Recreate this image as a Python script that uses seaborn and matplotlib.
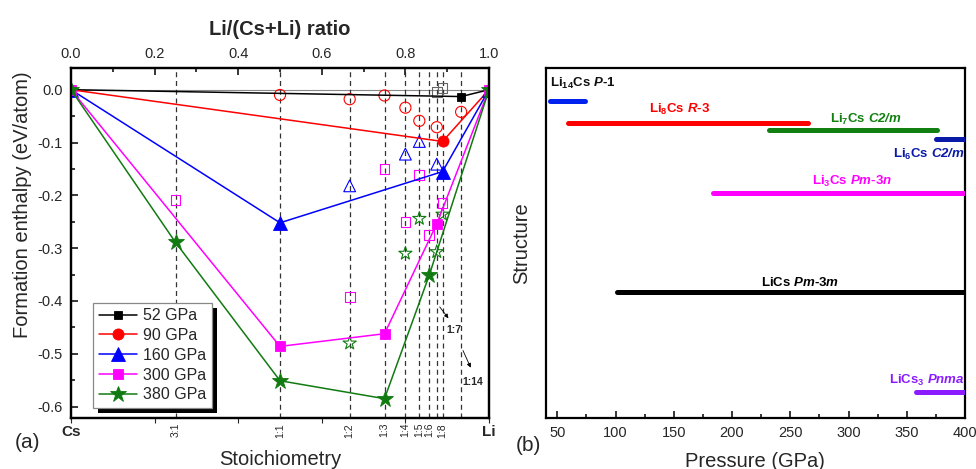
import numpy as np
import pandas as pd
import matplotlib
matplotlib.use("Agg")
import matplotlib.pyplot as plt
from matplotlib.patches import Rectangle
from matplotlib.transforms import IdentityTransform
from matplotlib.ticker import MultipleLocator
import seaborn as sns

# ---------------- data: formation enthalpy vs composition ----------------
stoich_x = [0.25, 0.5, 2 / 3, 0.75, 0.8, 5 / 6, 6 / 7, 7 / 8, 8 / 9, 14 / 15]
stoich_labels = ["3:1", "1:1", "1:2", "1:3", "1:4", "1:5", "1:6", "", "1:8", ""]

pressures = ["52 GPa", "90 GPa", "160 GPa", "300 GPa", "380 GPa"]
colors = ["#000000", "#ff0000", "#0000ff", "#ff00ff", "#117a11"]
markers = ["s", "o", "^", "s", "*"]
filled_size = [5.5, 8, 10, 7, 12]
open_size = [7, 8, 8.5, 7, 10]

# convex-hull (stable) points for each pressure
hull_x = {
    "52 GPa": [0.0, 14 / 15, 1.0],
    "90 GPa": [0.0, 8 / 9, 1.0],
    "160 GPa": [0.0, 0.5, 8 / 9, 1.0],
    "300 GPa": [0.0, 0.5, 0.75, 7 / 8, 1.0],
    "380 GPa": [0.0, 0.25, 0.5, 0.75, 6 / 7, 1.0],
}
hull_y = {
    "52 GPa": [0.0, -0.013, 0.0],
    "90 GPa": [0.0, -0.098, 0.0],
    "160 GPa": [0.0, -0.252, -0.155, 0.0],
    "300 GPa": [0.0, -0.486, -0.462, -0.254, 0.0],
    "380 GPa": [0.0, -0.289, -0.551, -0.585, -0.351, 0.0],
}
# metastable (above-hull) compositions
meta_x = {
    "52 GPa": [7 / 8, 8 / 9],
    "90 GPa": [0.5, 2 / 3, 0.75, 0.8, 5 / 6, 7 / 8, 14 / 15],
    "160 GPa": [2 / 3, 0.8, 5 / 6, 7 / 8],
    "300 GPa": [0.25, 2 / 3, 0.75, 0.8, 5 / 6, 6 / 7, 8 / 9],
    "380 GPa": [2 / 3, 0.8, 5 / 6, 7 / 8, 8 / 9],
}
meta_y = {
    "52 GPa": [-0.005, 0.003],
    "90 GPa": [-0.010, -0.018, -0.011, -0.034, -0.059, -0.071, -0.042],
    "160 GPa": [-0.182, -0.122, -0.098, -0.141],
    "300 GPa": [-0.209, -0.392, -0.150, -0.250, -0.162, -0.275, -0.215],
    "380 GPa": [-0.480, -0.310, -0.244, -0.307, -0.236],
}

# ---------------- data: pressure ranges of stable structures ----------------
phase_names = [
    r"Li$_{\mathbf{14}}$Cs $\mathbfit{P}$-1",
    r"Li$_{\mathbf{8}}$Cs $\mathbfit{R}$-3",
    r"Li$_{\mathbf{7}}$Cs $\mathbfit{C2/m}$",
    r"Li$_{\mathbf{6}}$Cs $\mathbfit{C2/m}$",
    r"Li$_{\mathbf{3}}$Cs $\mathbfit{Pm}$-3$\mathbfit{n}$",
    r"LiCs $\mathbfit{Pm}$-3$\mathbfit{m}$",
    r"LiCs$_{\mathbf{3}}$ $\mathbfit{Pnma}$",
]
phase_start = [44, 59, 232, 375, 184, 101, 358]
phase_end = [74, 265, 376, 400, 400, 400, 400]
phase_level = [0.906, 0.843, 0.823, 0.797, 0.644, 0.359, 0.073]
phase_colors = ["#0022ee", "#ff0000", "#118011", "#0a1aa8", "#ff00ff", "#000000", "#8a1cff"]
label_x = [44, 155, 315, 400, 303, 258, 400]
label_y = [0.957, 0.883, 0.855, 0.754, 0.677, 0.386, 0.108]
label_ha = ["left", "center", "center", "right", "center", "center", "right"]
label_colors = ["#111111", "#ff0000", "#118011", "#0a1aa8", "#ff00ff", "#000000", "#8a1cff"]

# ---------------- style ----------------
sns.set_style("ticks")
plt.rcParams["font.family"] = ["Liberation Sans", "DejaVu Sans"]
plt.rcParams["mathtext.fontset"] = "custom"
plt.rcParams["mathtext.rm"] = "Liberation Sans"
plt.rcParams["mathtext.it"] = "Liberation Sans:italic"
plt.rcParams["mathtext.bf"] = "Liberation Sans:bold"
plt.rcParams["mathtext.bfit"] = "Liberation Sans:italic:bold"
plt.rcParams["axes.linewidth"] = 1.6

W, H = 976, 469
fig = plt.figure(figsize=(W / 100, H / 100), dpi=100)


def px_axes(left, right, top, bottom):
    return fig.add_axes([left / W, (H - bottom) / H, (right - left) / W, (bottom - top) / H])


ax = px_axes(71, 489, 68.3, 417.7)
bx = px_axes(545.7, 965, 68.3, 417.7)

# ================= panel (a) =================
ax.set_xlim(0, 1)
ax.set_ylim(-0.621, 0.0405)
ax.axhline(0, color="#888888", lw=0.8, zorder=1)
for xv in stoich_x:
    ax.axvline(xv, color="#333333", lw=0.9, ls=(0, (4, 3)), zorder=1)

for p, c, m, msf, mso in zip(pressures, colors, markers, filled_size, open_size):
    sns.lineplot(x=hull_x[p], y=hull_y[p], ax=ax, color=c, lw=1.1, sort=False,
                 marker=m, markersize=msf, markeredgecolor=c, markerfacecolor=c,
                 markeredgewidth=0.6, label=p, zorder=4, legend=False)
    ec = "#666666" if p == "52 GPa" else c
    sns.scatterplot(x=meta_x[p], y=meta_y[p], ax=ax, marker=m, s=mso ** 2,
                    facecolor="none", edgecolor=ec, linewidth=0.8, zorder=3, legend=False)

ax.yaxis.set_major_locator(MultipleLocator(0.1))
ax.yaxis.set_minor_locator(MultipleLocator(0.05))
ax.set_yticklabels([f"{v:.1f}" for v in ax.get_yticks()])
ax.tick_params(axis="y", which="both", direction="in", left=True, right=False,
               labelsize=10.5, pad=6, width=1.3)
ax.tick_params(axis="y", which="major", length=5)
ax.tick_params(axis="y", which="minor", length=3)
ax.tick_params(axis="x", which="both", bottom=False, labelbottom=False)
ax.set_ylabel("Formation enthalpy (eV/atom)", fontsize=14.5)
ax.yaxis.set_label_coords(-0.094, 0.609)

# composition ratio on top axis
top = ax.twiny()
top.set_xlim(0, 1)
top.xaxis.set_major_locator(MultipleLocator(0.2))
top.xaxis.set_minor_locator(MultipleLocator(0.1))
top.set_xticklabels([f"{v:.1f}" for v in top.get_xticks()])
top.tick_params(axis="x", which="both", direction="in", labelsize=10.5, pad=5, width=1.3)
top.tick_params(axis="x", which="major", length=5)
top.tick_params(axis="x", which="minor", length=3)
top.set_xlabel("Li/(Cs+Li) ratio", fontsize=14.5, fontweight="bold", labelpad=9)

# stoichiometry labels under the axis
btrans = ax.get_xaxis_transform()
for xv, lab in zip(stoich_x, stoich_labels):
    if lab:
        ax.text(xv, -0.015, lab, transform=btrans, rotation=90, ha="center",
                va="top", fontsize=7.5, clip_on=False)
ax.text(0, -0.04, "Cs", transform=btrans, ha="center", va="center",
        fontsize=11, fontweight="bold")
ax.text(1, -0.04, "Li", transform=btrans, ha="center", va="center",
        fontsize=11, fontweight="bold")

arrow_style = dict(arrowstyle="-|>", lw=0.6, color="black", mutation_scale=6)
ax.annotate("", xy=(0.907, -0.437), xytext=(0.878, -0.407), arrowprops=arrow_style)
ax.text(0.897, -0.455, "1:7", fontsize=7.5, fontweight="bold", ha="left", va="center")
ax.annotate("", xy=(0.959, -0.531), xytext=(0.935, -0.489), arrowprops=arrow_style)
ax.text(0.937, -0.554, "1:14", fontsize=7.5, fontweight="bold", ha="left", va="center")

ax.set_xlabel("Stoichiometry", fontsize=14.5)
ax.xaxis.set_label_coords(0.5, -0.093)
fig.text(28 / W, 1 - 442 / H, "(a)", fontsize=15, ha="center", va="center")

# legend with a solid drop shadow
handles, labels = ax.get_legend_handles_labels()
leg = ax.legend(handles[:5], labels[:5], loc="lower left", bbox_to_anchor=(0.053, 0.028),
                borderaxespad=0, fontsize=11.5, frameon=True, fancybox=False,
                edgecolor="#888888", framealpha=1, handlelength=2.4,
                labelspacing=0.3, handletextpad=0.4, borderpad=0.35)
leg.get_frame().set_linewidth(0.9)
leg.set_zorder(6)

# ================= panel (b) =================
bx.set_xlim(40, 400)
bx.set_ylim(0, 1)
for x0, x1, yv, c in zip(phase_start, phase_end, phase_level, phase_colors):
    seg = pd.DataFrame({"p": [x0, x1], "lvl": [yv, yv]})
    sns.lineplot(data=seg, x="p", y="lvl", ax=bx, color=c, lw=3.6,
                 solid_capstyle="round", zorder=3)
for name, lx, ly, ha, c in zip(phase_names, label_x, label_y, label_ha, label_colors):
    bx.text(lx, ly, name, color=c, fontsize=9.5, fontweight="bold", ha=ha, va="center")

bx.xaxis.set_major_locator(MultipleLocator(50))
bx.xaxis.set_minor_locator(MultipleLocator(25))
bx.tick_params(axis="x", which="both", direction="in", labelsize=10.5, pad=6, width=1.3)
bx.tick_params(axis="x", which="major", length=5)
bx.tick_params(axis="x", which="minor", length=3)
bx.set_yticks([])
bx.set_xlabel("Pressure (GPa)", fontsize=14.5)
bx.xaxis.set_label_coords(0.5, -0.098)
bx.set_ylabel("Structure", fontsize=14.5)
bx.yaxis.set_label_coords(-0.035, 0.5)
fig.text(528 / W, 1 - 445 / H, "(b)", fontsize=15, ha="center", va="center")

for a in (ax, bx, top):
    for s in a.spines.values():
        s.set_visible(True)
        s.set_linewidth(1.6)
        s.set_color("black")

# solid shadow behind the legend box
fig.canvas.draw()
bb = leg.get_window_extent()
shadow = Rectangle((bb.x0 + 5, bb.y0 - 5), bb.width, bb.height,
                   facecolor="black", edgecolor="none", zorder=5.5)
shadow.set_transform(IdentityTransform())
ax.add_artist(shadow)
shadow.set_clip_on(False)

fig.savefig("out.png", dpi=100)
